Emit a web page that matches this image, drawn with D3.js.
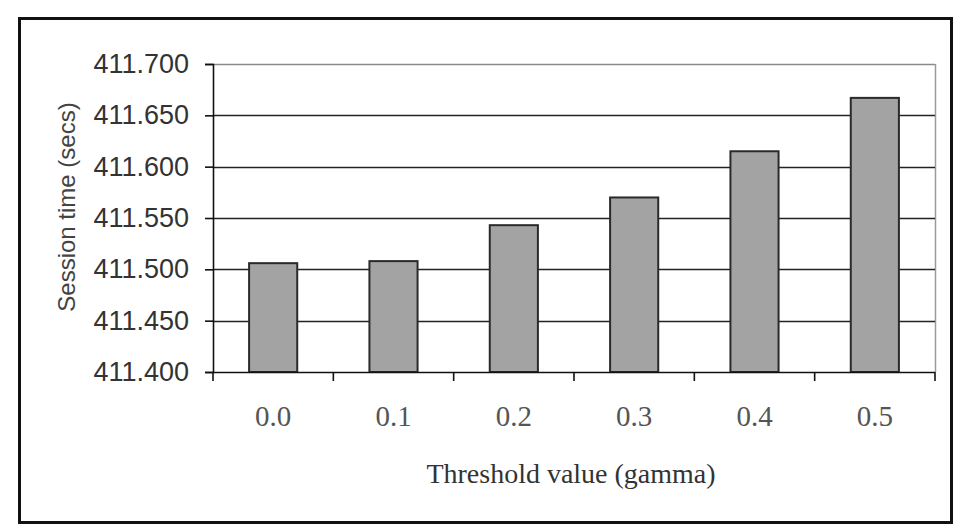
<!DOCTYPE html>
<html>
<head>
<meta charset="utf-8">
<script src="https://cdn.jsdelivr.net/npm/d3@7"></script>
<style>
  html, body { margin: 0; padding: 0; background: #fff; }
  svg { display: block; }
</style>
</head>
<body>
<svg id="chart" width="958" height="529"></svg>
<script>
// Session time for each threshold value
const categories = ["0.0", "0.1", "0.2", "0.3", "0.4", "0.5"];
const sessionTime = [411.506, 411.508, 411.543, 411.570, 411.615, 411.667];
const yTicks = [411.400, 411.450, 411.500, 411.550, 411.600, 411.650, 411.700];

const svg = d3.select("#chart");
const plot = { left: 213, right: 935, top: 64, bottom: 372 };

// outer chart frame
svg.append("rect")
  .attr("x", 19.5).attr("y", 18.5)
  .attr("width", 932).attr("height", 504)
  .attr("fill", "#fff")
  .attr("stroke", "#111").attr("stroke-width", 3);

const x = d3.scaleBand()
  .domain(categories)
  .range([plot.left, plot.right])
  .paddingInner(0.6).paddingOuter(0.3);

const xOuter = d3.scaleBand()
  .domain(categories)
  .range([plot.left, plot.right]);

const y = d3.scaleLinear()
  .domain([411.400, 411.700])
  .range([plot.bottom, plot.top]);

// plot area right border
svg.append("line")
  .attr("x1", plot.right + 0.5).attr("x2", plot.right + 0.5)
  .attr("y1", plot.top).attr("y2", plot.bottom)
  .attr("stroke", "#9a9a9a").attr("stroke-width", 1.5);

// horizontal gridlines
svg.append("g")
  .selectAll("line")
  .data(yTicks.slice(1))
  .join("line")
  .attr("x1", plot.left).attr("x2", plot.right)
  .attr("y1", d => Math.round(y(d)) + 0.5)
  .attr("y2", d => Math.round(y(d)) + 0.5)
  .attr("stroke", (d, i, a) => i === a.length - 1 ? "#8a8a8a" : "#222")
  .attr("stroke-width", 1.6);

// bars
svg.append("g")
  .selectAll("rect")
  .data(sessionTime)
  .join("rect")
  .attr("x", (d, i) => x(categories[i]))
  .attr("width", x.bandwidth())
  .attr("y", d => y(d))
  .attr("height", d => y(411.400) - y(d))
  .attr("fill", "#a3a3a3")
  .attr("stroke", "#2a2a2a")
  .attr("stroke-width", 2);

// y axis
const yAxis = d3.axisLeft(y)
  .tickValues(yTicks)
  .tickSize(8)
  .tickPadding(16)
  .tickFormat(d3.format(".3f"));

const gy = svg.append("g")
  .attr("transform", `translate(${plot.left},0)`)
  .call(yAxis);
gy.select(".domain").attr("stroke", "#111").attr("stroke-width", 1.6);
gy.selectAll(".tick line").attr("stroke", "#111").attr("stroke-width", 1.6);
gy.selectAll(".tick text")
  .attr("fill", "#333")
  .style("font-family", "'Liberation Sans', Arial, sans-serif")
  .style("font-size", "27px");

// x axis: labels centred in each category, ticks at category boundaries
const xAxis = d3.axisBottom(xOuter).tickSize(0).tickPadding(33);
const gx = svg.append("g")
  .attr("transform", `translate(0,${plot.bottom})`)
  .call(xAxis);
gx.select(".domain").remove();
gx.selectAll(".tick text")
  .attr("fill", "#555")
  .style("font-family", "'Liberation Serif', 'Times New Roman', serif")
  .style("font-size", "29px");

const boundaries = categories.map(c => xOuter(c)).concat([plot.right]);
svg.append("line")
  .attr("x1", plot.left).attr("x2", plot.right)
  .attr("y1", plot.bottom + 0.5).attr("y2", plot.bottom + 0.5)
  .attr("stroke", "#111").attr("stroke-width", 1.6);
svg.append("g")
  .selectAll("line")
  .data(boundaries)
  .join("line")
  .attr("x1", d => d).attr("x2", d => d)
  .attr("y1", plot.bottom).attr("y2", plot.bottom + 9)
  .attr("stroke", "#111").attr("stroke-width", 1.6);

// axis titles
svg.append("text")
  .attr("transform", "translate(75,207) rotate(-90)")
  .attr("text-anchor", "middle")
  .attr("fill", "#444")
  .style("font-family", "'Liberation Sans', Arial, sans-serif")
  .style("font-size", "24px")
  .text("Session time (secs)");

svg.append("text")
  .attr("x", 571).attr("y", 483)
  .attr("text-anchor", "middle")
  .attr("fill", "#333")
  .style("font-family", "'Liberation Serif', 'Times New Roman', serif")
  .style("font-size", "28px")
  .text("Threshold value (gamma)");
</script>
</body>
</html>
